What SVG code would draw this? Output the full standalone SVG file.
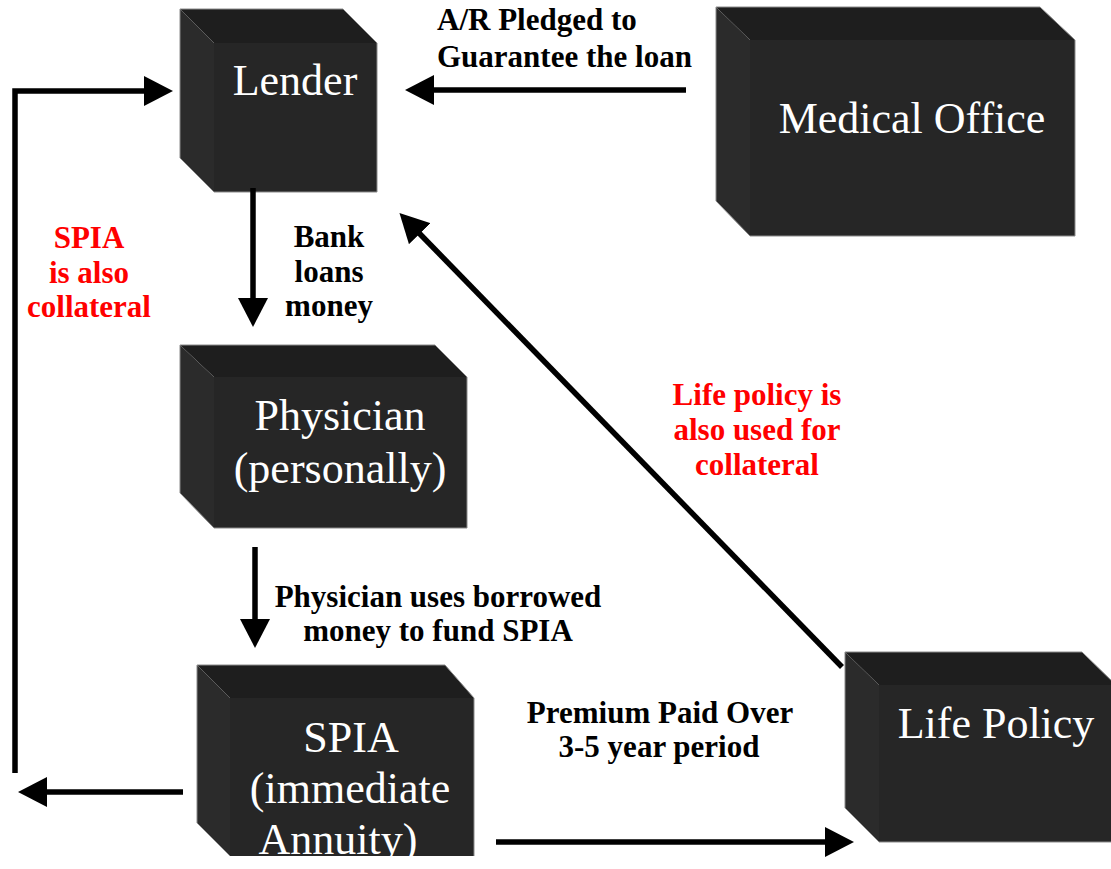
<svg xmlns="http://www.w3.org/2000/svg" width="1111" height="869" viewBox="0 0 1111 869">
<style>
.top{fill:#1e1e1e}
.side{fill:#2b2b2b}
.front{fill:#262626}
.edge{fill:none;stroke:#8a8a8a;stroke-width:1}
.nl{font-family:"Liberation Serif","Times New Roman",serif;font-size:44px;fill:#ffffff;text-anchor:middle}
.lbl{font-family:"Liberation Serif","Times New Roman",serif;font-size:31px;font-weight:bold;fill:#000000}
.red{fill:#ff0000}
.mid{text-anchor:middle}
.ar{fill:none;stroke:#000;stroke-width:5.5;stroke-linejoin:miter}
</style>
<defs>
<marker id="ah" markerUnits="userSpaceOnUse" markerWidth="30" markerHeight="30" refX="1" refY="15" orient="auto" viewBox="0 0 30 30">
<path d="M0,0 L29,15 L0,30 z" fill="#000"/>
</marker>
<clipPath id="clipSpia"><rect x="190" y="660" width="300" height="196"/></clipPath>
</defs>

<g id="lender">
<polygon class="top" points="180,9 343,9 377,43 214,43"/>
<polygon class="side" points="180,9 214,43 214,192 180,158"/>
<rect class="front" x="214" y="43" width="163" height="149"/>
<polygon class="edge" points="180,9 343,9 377,43 377,192 214,192 180,158"/>
<text class="nl" x="295" y="95">Lender</text>
</g>

<g id="medical-office">
<polygon class="top" points="716,7 1040,7 1075,40 750,40"/>
<polygon class="side" points="716,7 750,40 750,236 716,201"/>
<rect class="front" x="750" y="40" width="325" height="196"/>
<polygon class="edge" points="716,7 1040,7 1075,40 1075,236 750,236 716,201"/>
<text class="nl" x="912" y="133">Medical Office</text>
</g>

<g id="physician">
<polygon class="top" points="180,345 435,345 467,377 214,377"/>
<polygon class="side" points="180,345 214,377 214,528 180,493"/>
<rect class="front" x="214" y="377" width="253" height="151"/>
<polygon class="edge" points="180,345 435,345 467,377 467,528 214,528 180,493"/>
<text class="nl" x="340" y="430">Physician</text>
<text class="nl" x="340" y="483">(personally)</text>
</g>

<g id="spia">
<polygon class="top" points="197,665 445,665 474,698 230,698"/>
<polygon class="side" points="197,665 230,698 230,856 197,823"/>
<rect class="front" x="230" y="698" width="244" height="158"/>
<polyline class="edge" points="197,823 197,665 445,665 474,698 474,856"/>
<g clip-path="url(#clipSpia)">
<text class="nl" x="351" y="752">SPIA</text>
<text class="nl" x="350" y="803">(immediate</text>
<text class="nl" x="338" y="854">Annuity)</text>
</g>
</g>

<g id="life-policy">
<polygon class="top" points="845,652 1082,652 1116,685 879,685"/>
<polygon class="side" points="845,652 879,685 879,842 845,808"/>
<rect class="front" x="879" y="685" width="240" height="157"/>
<polyline class="edge" points="845,808 845,652 1082,652 1116,685"/>
<polyline class="edge" points="879,842 1116,842"/>
<text class="nl" x="996" y="738">Life Policy</text>
</g>

<g id="connectors">
<polyline class="ar" points="15,773 15,91 145,91" marker-end="url(#ah)"/>
<line class="ar" x1="183" y1="792" x2="46" y2="792" marker-end="url(#ah)"/>
<line class="ar" x1="686" y1="90" x2="433" y2="90" marker-end="url(#ah)"/>
<line class="ar" x1="253" y1="188" x2="253" y2="299" marker-end="url(#ah)"/>
<line class="ar" x1="255" y1="547" x2="255" y2="620" marker-end="url(#ah)"/>
<line class="ar" x1="496" y1="842" x2="826" y2="842" marker-end="url(#ah)"/>
<line class="ar" x1="842" y1="667" x2="419" y2="233" marker-end="url(#ah)"/>
</g>

<g id="labels">
<text class="lbl" x="437" y="30">A/R Pledged to</text>
<text class="lbl" x="437" y="67">Guarantee the loan</text>
<text class="lbl mid" x="329" y="247">Bank</text>
<text class="lbl mid" x="329" y="282">loans</text>
<text class="lbl mid" x="329" y="316">money</text>
<text class="lbl mid" x="438" y="607">Physician uses borrowed</text>
<text class="lbl mid" x="438" y="641">money to fund SPIA</text>
<text class="lbl mid" x="660" y="723">Premium Paid Over</text>
<text class="lbl mid" x="659" y="757">3-5 year period</text>
<text class="lbl mid red" x="89" y="248">SPIA</text>
<text class="lbl mid red" x="89" y="283">is also</text>
<text class="lbl mid red" x="89" y="317">collateral</text>
<text class="lbl mid red" x="757" y="405">Life policy is</text>
<text class="lbl mid red" x="757" y="440">also used for</text>
<text class="lbl mid red" x="757" y="475">collateral</text>
</g>
</svg>
